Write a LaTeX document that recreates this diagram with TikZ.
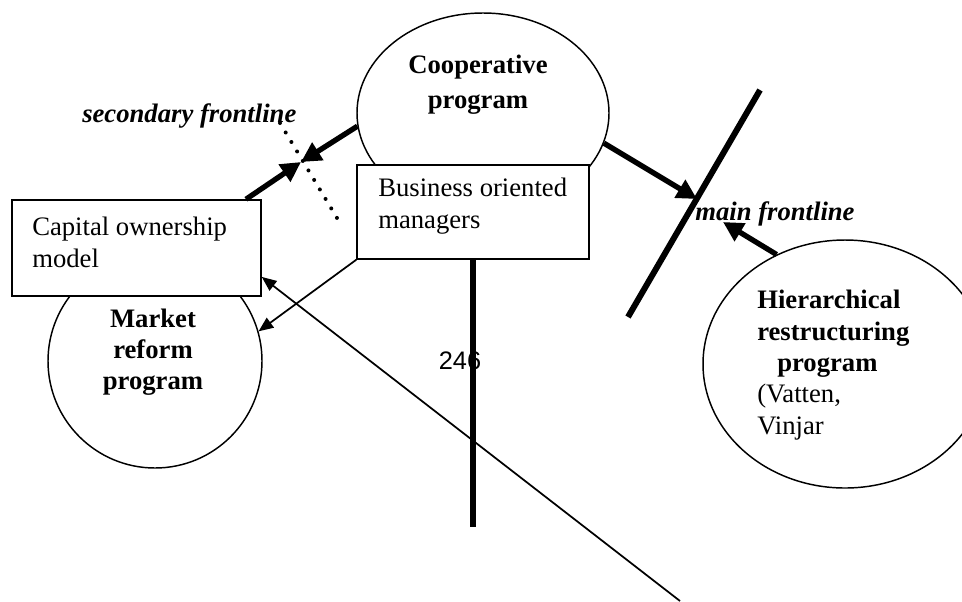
\documentclass[tikz,border=0pt]{standalone}
\usepackage{fontspec}
\setmainfont{Liberation Serif}
\newfontfamily\pagefont{Liberation Sans}
\usetikzlibrary{shapes.geometric,arrows.meta}

\begin{document}
\begin{tikzpicture}[x=0.75pt,y=-0.75pt,
  blob/.style={draw,ellipse,line width=1.1pt,inner sep=0pt},
  box/.style={draw,fill=white,line width=1.1pt,inner sep=0pt},
  lbl/.style={inner sep=0pt,font=\fontsize{20}{24}\selectfont,align=left},
  bold/.style={inner sep=0pt,font=\fontsize{20}{26}\selectfont\bfseries,align=center},
  frontlbl/.style={inner sep=0pt,font=\fontsize{20}{24}\selectfont\bfseries\itshape},
  push/.style={line width=4pt,-{Triangle[length=15pt,width=15pt]}},
  hint/.style={line width=1.3pt,-{Triangle[length=11pt,width=9pt]}},
  front/.style={line width=4.5pt}]
\useasboundingbox (0,0) rectangle (962,601);

% the three programs
\node[blob,minimum width=189pt,minimum height=150pt] (coop) at (483,113) {};
\node[blob,minimum width=160.5pt,minimum height=160.5pt] (market) at (155,361) {};
\node[blob,minimum width=213pt,minimum height=186pt] (hier) at (845,364) {};

% boxes lie over the circles
\node[box,minimum width=186.75pt,minimum height=72pt] (capital) at (136.5,248) {};
\node[box,minimum width=174pt,minimum height=70.5pt] (business) at (473,212) {};

\node[bold,anchor=north] (cooptext) at (478,55) {Cooperative\\program};
\node[bold,anchor=north,font=\fontsize{20}{23}\selectfont\bfseries] (markettext) at (153,309) {Market\\reform\\program};
\node[lbl,anchor=north west,font=\fontsize{20}{23.5}\selectfont] (hiertext) at (757,290)
  {\textbf{Hierarchical}\\\textbf{restructuring}\\\hspace*{15pt}\textbf{program}\\(Vatten,\\Vinjar};
\node[lbl,anchor=north west] (capitaltext) at (32,217) {Capital ownership\\model};
\node[lbl,anchor=north west] (businesstext) at (378,178) {Business oriented\\managers};
\node[frontlbl,anchor=base west] (sectext) at (82,122) {secondary frontline};
\node[frontlbl,anchor=base west] (maintext) at (695,220) {main frontline};
\node[inner sep=0pt,anchor=base,font=\pagefont\fontsize{19}{22}\selectfont] (page) at (460,369) {246};

% frontlines
\coordinate (maintop) at (760,90);
\coordinate (mainbot) at (628,317);
\coordinate (mainhit) at (697,199);
\coordinate (mainback) at (723,222);
\coordinate (sectop) at (280,123);
\coordinate (secbot) at (337,218);
\coordinate (sechit) at (301,162);
\coordinate (stemend) at (473,527);
\coordinate (lowend) at (680,601);

\draw[front] (maintop) -- (mainbot);
\draw[line width=3pt,line cap=round,dash pattern=on 0pt off 8.3pt] (sectop) -- (secbot);
\draw[line width=5pt] (business.south) -- (stemend);

\draw[push] (coop.-14.5) -- (mainhit);
\draw[push] (hier.122.3) -- (mainback);
\draw[push] (coop.186) -- (sechit);
\draw[push] (capital.24.7) -- (sechit);

\draw[hint] (business.south west) -- (market.16);
\draw[hint] (lowend) -- (capital.-13.5);
\end{tikzpicture}
\end{document}
